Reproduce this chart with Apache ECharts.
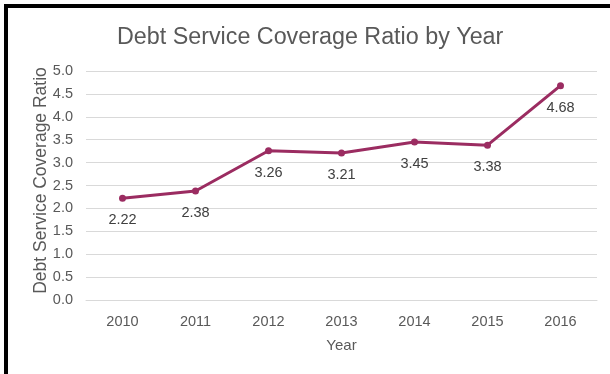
<!DOCTYPE html>
<html>
<head>
<meta charset="utf-8">
<script src="https://cdn.jsdelivr.net/npm/echarts@6/dist/echarts.min.js"></script>
<style>
  html, body { margin: 0; padding: 0; background: #fff; }
  #chart { width: 610px; height: 374px; }
</style>
</head>
<body>
<div id="chart"></div>
<script>
// Debt service coverage ratio, one value per fiscal year
const years = ['2010', '2011', '2012', '2013', '2014', '2015', '2016'];
const dscr = [2.22, 2.38, 3.26, 3.21, 3.45, 3.38, 4.68];

const FONT = '"Liberation Sans", Arial, sans-serif';
const LINE_COLOR = '#9B2C61';

const chart = echarts.init(document.getElementById('chart'), null, { renderer: 'canvas' });

chart.setOption({
  backgroundColor: '#ffffff',
  animation: false,
  textStyle: { fontFamily: FONT },
  title: {
    text: 'Debt Service Coverage Ratio by Year',
    left: 112,
    top: 21,
    textStyle: { fontFamily: FONT, fontSize: 23.3, fontWeight: 'normal', color: '#595959' }
  },
  graphic: [
    // frame lines along the top and left edges
    { type: 'rect', shape: { x: 4, y: 4, width: 606, height: 4 }, style: { fill: '#000' }, silent: true },
    { type: 'rect', shape: { x: 4, y: 4, width: 4, height: 370 }, style: { fill: '#000' }, silent: true }
  ],
  grid: { left: 86, right: 13, top: 71, bottom: 74, containLabel: false },
  xAxis: {
    type: 'category',
    data: years,
    boundaryGap: true,
    name: 'Year',
    nameLocation: 'middle',
    nameGap: 38,
    nameMoveOverlap: false,
    nameTextStyle: { fontFamily: FONT, fontSize: 15, color: '#595959' },
    axisLine: { show: true, lineStyle: { color: '#d9d9d9', width: 1 } },
    axisTick: { show: false },
    axisLabel: { fontFamily: FONT, fontSize: 14.5, color: '#595959', margin: 14 }
  },
  yAxis: {
    type: 'value',
    min: 0,
    max: 5,
    interval: 0.5,
    name: 'Debt Service Coverage Ratio',
    nameLocation: 'middle',
    nameGap: 36,
    nameMoveOverlap: false,
    nameTextStyle: { fontFamily: FONT, fontSize: 17.5, color: '#595959', padding: [0, 0, 0, 10] },
    axisLine: { show: false },
    axisTick: { show: false },
    axisLabel: {
      fontFamily: FONT, fontSize: 14.5, color: '#595959', margin: 13,
      formatter: v => v.toFixed(1)
    },
    splitLine: { show: true, lineStyle: { color: '#d9d9d9', width: 1 } }
  },
  series: [{
    type: 'line',
    data: dscr,
    symbol: 'circle',
    symbolSize: 7,
    lineStyle: { color: LINE_COLOR, width: 3 },
    itemStyle: { color: LINE_COLOR },
    label: {
      show: true,
      position: 'bottom',
      distance: 11,
      fontFamily: FONT,
      fontSize: 14.5,
      color: '#404040',
      formatter: p => p.value.toFixed(2)
    }
  }]
});
</script>
</body>
</html>
